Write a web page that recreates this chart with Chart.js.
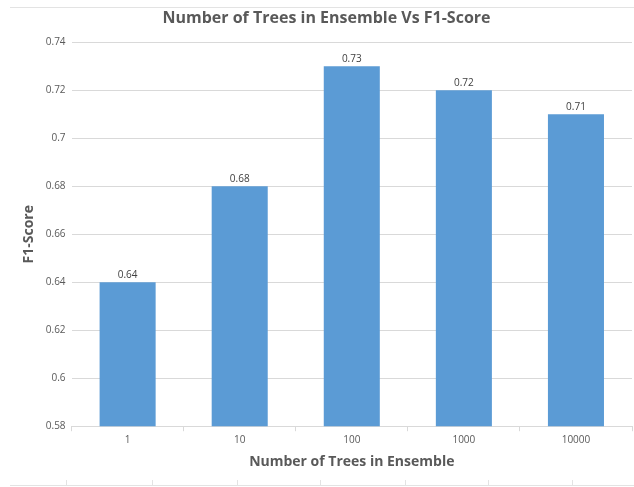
<!DOCTYPE html>
<html>
<head>
<meta charset="utf-8">
<script src="https://cdn.jsdelivr.net/npm/chart.js@4.4.0/dist/chart.umd.min.js"></script>
<style>
  html, body { margin: 0; padding: 0; background: #fff; }
  #wrap { width: 634px; height: 487px; position: relative; }
</style>
</head>
<body>
<div id="wrap"><canvas id="f1Chart"></canvas></div>
<script>
// trees in ensemble vs F1 score
const treeCounts = ["1", "10", "100", "1000", "10000"];
const f1Scores = [0.64, 0.68, 0.73, 0.72, 0.71];
const yTicks = ["0.58", "0.6", "0.62", "0.64", "0.66", "0.68", "0.7", "0.72", "0.74"];

const textGray = "#595959";
const gridGray = "#d9d9d9";
const fontFamily = "'Open Sans', 'Liberation Sans', sans-serif";

// value labels on top of each bar
const barLabels = {
  id: "barLabels",
  afterDatasetsDraw(chart) {
    const ctx = chart.ctx;
    const meta = chart.getDatasetMeta(0);
    ctx.save();
    ctx.fillStyle = "#404040";
    ctx.font = "10px " + fontFamily;
    ctx.textAlign = "center";
    ctx.textBaseline = "bottom";
    meta.data.forEach((bar, i) => {
      ctx.fillText(String(f1Scores[i]), bar.x, bar.y - 2);
    });
    ctx.restore();
  },
};

// sheet cell borders around the chart
const sheetLines = {
  id: "sheetLines",
  beforeDraw(chart) {
    const ctx = chart.ctx;
    ctx.save();
    ctx.strokeStyle = "#e3e3e3";
    ctx.lineWidth = 1;
    ctx.beginPath();
    ctx.moveTo(10, 7.5);
    ctx.lineTo(634, 7.5);
    ctx.moveTo(10, 485.5);
    ctx.lineTo(634, 485.5);
    [66, 152, 237, 320, 405, 488, 572].forEach((x) => {
      ctx.moveTo(x + 0.5, 480);
      ctx.lineTo(x + 0.5, 486);
    });
    ctx.stroke();
    ctx.restore();
  },
};

const ctx = document.getElementById("f1Chart").getContext("2d");
const f1Chart = new Chart(ctx, {
  type: "bar",
  data: {
    labels: treeCounts,
    datasets: [
      {
        label: "F1-Score",
        data: f1Scores,
        backgroundColor: "#5b9bd5",
        barPercentage: 0.5,
        categoryPercentage: 1.0,
      },
    ],
  },
  options: {
    responsive: true,
    maintainAspectRatio: false,
    animation: false,
    layout: {
      padding: { left: 21, right: 2, top: 9, bottom: 13 },
    },
    plugins: {
      legend: { display: false },
      tooltip: { enabled: false },
      title: {
        display: true,
        text: "Number of Trees in Ensemble Vs F1-Score",
        color: textGray,
        font: { family: fontFamily, size: 16, weight: "bold" },
        padding: { top: 0, bottom: 14 },
      },
    },
    scales: {
      y: {
        min: 0.58,
        max: 0.74,
        ticks: {
          stepSize: 0.02,
          color: textGray,
          font: { family: fontFamily, size: 10 },
          padding: 6,
          callback: (v, i) => yTicks[i],
        },
        grid: { color: gridGray, drawTicks: false },
        border: { display: false },
        title: {
          display: true,
          text: "F1-Score",
          color: textGray,
          font: { family: fontFamily, size: 14, weight: "bold" },
          padding: { top: 0, bottom: 2 },
        },
      },
      x: {
        ticks: {
          color: textGray,
          font: { family: fontFamily, size: 10 },
          padding: 3,
        },
        grid: {
          color: gridGray,
          drawOnChartArea: false,
          tickLength: 5,
        },
        border: { color: gridGray },
        title: {
          display: true,
          text: "Number of Trees in Ensemble",
          color: textGray,
          font: { family: fontFamily, size: 14, weight: "bold" },
          padding: { top: 4 },
        },
      },
    },
  },
  plugins: [barLabels, sheetLines],
});
</script>
</body>
</html>
